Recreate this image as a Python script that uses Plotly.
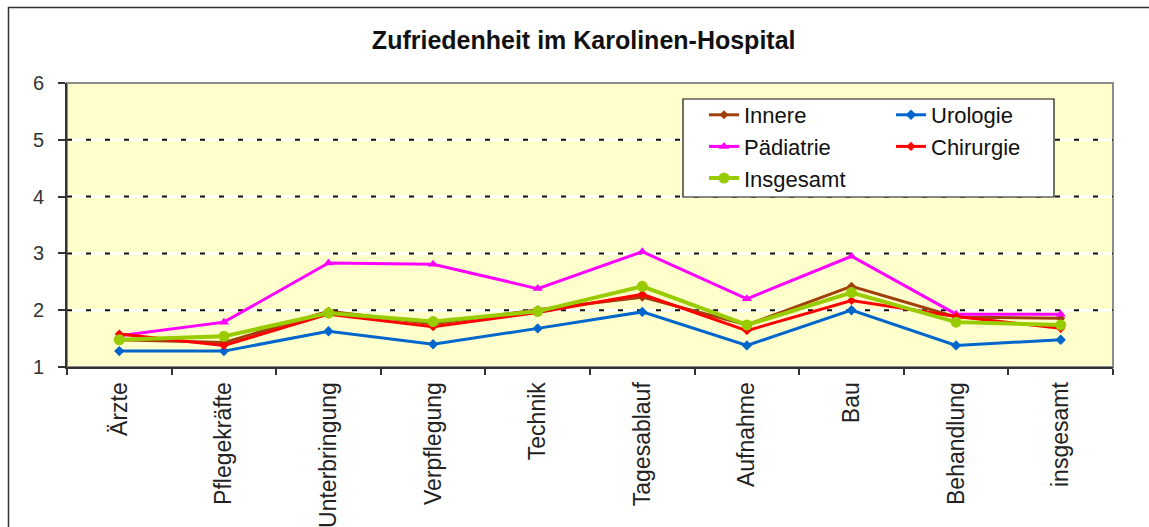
import plotly.graph_objects as go

categories = ["Ärzte", "Pflegekräfte", "Unterbringung", "Verpflegung", "Technik",
              "Tagesablauf", "Aufnahme", "Bau", "Behandlung", "insgesamt"]
innere = [1.48, 1.43, 1.98, 1.76, 2.01, 2.23, 1.74, 2.42, 1.88, 1.86]
urologie = [1.28, 1.28, 1.63, 1.40, 1.68, 1.97, 1.38, 2.00, 1.38, 1.48]
paediatrie = [1.55, 1.79, 2.83, 2.81, 2.38, 3.03, 2.20, 2.95, 1.93, 1.93]
chirurgie = [1.58, 1.38, 1.93, 1.71, 1.96, 2.28, 1.64, 2.17, 1.89, 1.68]
insgesamt = [1.48, 1.54, 1.95, 1.80, 1.98, 2.42, 1.74, 2.31, 1.79, 1.74]
y_ticks = [1, 2, 3, 4, 5, 6]
grid_values = [2, 3, 4, 5]
title_text = "Zufriedenheit im Karolinen-Hospital"

W, H = 1149, 527
ML, MR, MT, MB = 67, 36, 83, 160
PW, PH = W - ML - MR, H - MT - MB


def px_x(p):
    return (p - ML) / PW


def px_y(p):
    return 1 - (p - MT) / PH


FONT = "Liberation Sans, Arial, sans-serif"

series = [
    ("Innere", innere, "#A0410D", "diamond", 7, 3, "legend", "g1"),
    ("Urologie", urologie, "#0066CC", "diamond", 8, 3, "legend2", "g2"),
    ("Pädiatrie", paediatrie, "#FF00FF", "triangle-up", 9, 3, "legend", "g3"),
    ("Chirurgie", chirurgie, "#FF0000", "diamond", 7, 3, "legend2", "g4"),
    ("Insgesamt", insgesamt, "#99CC00", "circle", 11, 4, "legend", "g5"),
]

fig = go.Figure()
for name, vals, color, sym, msize, lw, leg, grp in series:
    fig.add_trace(go.Scatter(
        x=categories, y=vals, name=name, mode="lines+markers",
        line=dict(color=color, width=lw),
        marker=dict(symbol=sym, size=msize, color=color),
        legend=leg, legendgroup=grp,
    ))

shapes = []
# outer chart border
shapes.append(dict(type="rect", xref="paper", yref="paper",
                   x0=px_x(8.5), x1=1.3, y0=-1.0, y1=px_y(7.5),
                   line=dict(color="#333333", width=1.5), fillcolor="rgba(0,0,0,0)",
                   layer="below"))
# plot area border (gray top/right)
shapes.append(dict(type="rect", xref="paper", yref="paper",
                   x0=0, x1=1, y0=0, y1=1,
                   line=dict(color="#8C8C8C", width=2), fillcolor="rgba(0,0,0,0)",
                   layer="below"))
# gridlines: white line with black dashes
for g in grid_values:
    shapes.append(dict(type="line", xref="paper", yref="y", x0=0, x1=1, y0=g, y1=g,
                       line=dict(color="white", width=2.5), layer="below"))
    shapes.append(dict(type="line", xref="paper", yref="y", x0=0, x1=1, y0=g, y1=g,
                       line=dict(color="#111111", width=2, dash="5px,14px"), layer="below"))
# legend box
shapes.append(dict(type="rect", xref="paper", yref="paper",
                   x0=px_x(683), x1=px_x(1054), y0=px_y(197), y1=px_y(99),
                   line=dict(color="#111111", width=1.2), fillcolor="white",
                   layer="above"))

leg_common = dict(bgcolor="rgba(0,0,0,0)", borderwidth=0,
                  font=dict(family=FONT, size=22, color="#111111"),
                  yanchor="top", xanchor="left", tracegroupgap=0,
                  itemwidth=30)

fig.update_layout(
    width=W, height=H,
    margin=dict(l=ML, r=MR, t=MT, b=MB),
    paper_bgcolor="white",
    plot_bgcolor="#FFFFCC",
    title=dict(text="<b>" + title_text + "</b>", x=0.508, xanchor="center",
               y=1 - 40 / H, yanchor="middle", yref="container",
               font=dict(family=FONT, size=25, color="#111111")),
    showlegend=True,
    legend=dict(x=px_x(704), y=px_y(94), **leg_common),
    legend2=dict(x=px_x(891), y=px_y(94), **leg_common),
    shapes=shapes,
    xaxis=dict(
        type="category", showgrid=False, zeroline=False,
        showline=True, linecolor="#333333", linewidth=2,
        ticks="outside", ticklen=6, tickwidth=1.5, tickcolor="#333333",
        tickson="boundaries", tickangle=-90,
        tickfont=dict(family=FONT, size=23, color="#222222"),
        automargin=False, range=[-0.5, 9.5], ticklabelstandoff=4,
    ),
    yaxis=dict(
        range=[1, 6], tickvals=y_ticks, showgrid=False, zeroline=False,
        showline=True, linecolor="#333333", linewidth=2,
        ticks="outside", ticklen=7, tickwidth=1.5, tickcolor="#333333",
        tickfont=dict(family=FONT, size=20, color="#333333"),
        automargin=False, ticklabelstandoff=10,
    ),
)

fig.write_html("out.html", config={"displayModeBar": False},
               post_script="document.body.style.margin='0';")
